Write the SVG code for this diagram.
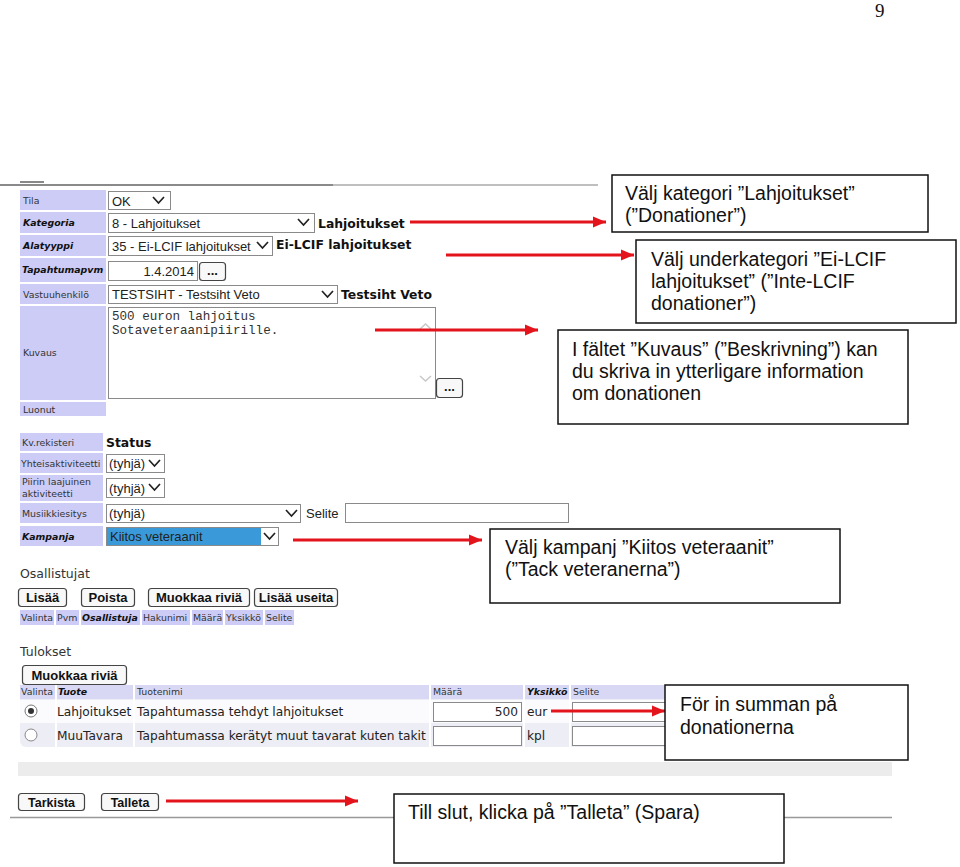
<svg xmlns="http://www.w3.org/2000/svg" xmlns:xlink="http://www.w3.org/1999/xlink" width="960" height="867" viewBox="0 0 960 867">
<style>
.lab{fill:#ccccf6}
.lt{font-family:"DejaVu Sans",Verdana,sans-serif;font-size:9.4px;fill:#333}
.bi{font-weight:bold;font-style:italic;fill:#111}
.inp{fill:#fff;stroke:#8a8a8a;stroke-width:1}
.st{font-family:"Liberation Sans",Arial,sans-serif;font-size:13px;fill:#222}
.bv{font-family:"DejaVu Sans",Verdana,sans-serif;font-size:12.4px;font-weight:bold;fill:#111}
.btn{fill:#f8f8f8;stroke:#444;stroke-width:1.2}
.bt{font-family:"Liberation Sans",Arial,sans-serif;font-size:13px;font-weight:bold;fill:#111;text-anchor:middle}
.bn{font-family:"Liberation Sans Narrow","Liberation Sans",Arial,sans-serif;font-size:12.5px;font-weight:bold;fill:#111;text-anchor:middle}
.rt{font-family:"DejaVu Sans",Verdana,sans-serif;font-size:12.2px;fill:#222}
.sec{font-family:"DejaVu Sans",Verdana,sans-serif;font-size:12.5px;fill:#333}
.box{fill:#fff;stroke:#111;stroke-width:1.5}
.ct{font-family:"Liberation Sans",Arial,sans-serif;font-size:19.5px;fill:#111}
.arr{stroke:#e3141b;stroke-width:3;fill:none;marker-end:url(#ah)}
</style>
<defs>
<path id="chev" d="M0,0 L5.5,6 L11,0" fill="none" stroke="#222" stroke-width="1.7"/>
<path id="chevg" d="M0,0 L5.5,5 L11,0" fill="none" stroke="#c8c8c8" stroke-width="1.5"/>
<marker id="ah" markerUnits="userSpaceOnUse" markerWidth="14" markerHeight="12" refX="13" refY="6" orient="auto">
<path d="M0,0.5 L13,6 L0,11.5 z" fill="#e3141b"/>
</marker>
</defs>
<rect width="960" height="867" fill="#fff"/>
<text x="875" y="17" font-family="Liberation Serif,serif" font-size="19" fill="#111">9</text>

<g id="form-top">
<rect x="20" y="181" width="24" height="2" fill="#888"/>
<line x1="0" y1="185" x2="333" y2="185" stroke="#8a8a8a" stroke-width="2"/>
<line x1="333" y1="185" x2="598" y2="185" stroke="#aaa" stroke-width="1.5"/>
<rect class="lab" x="20" y="190" width="86" height="20"/>
<text class="lt" x="23" y="204">Tila</text>
<rect class="inp" x="108.5" y="191.5" width="62" height="18"/>
<text class="st" x="112" y="206">OK</text>
<use xlink:href="#chev" x="153" y="197"/>

<rect class="lab" x="20" y="212" width="86" height="21"/>
<text class="lt bi" x="23" y="226">Kategoria</text>
<rect class="inp" x="108.5" y="213.5" width="206" height="19"/>
<text class="st" x="112" y="228">8 - Lahjoitukset</text>
<use xlink:href="#chev" x="298" y="219"/>
<text class="bv" x="318" y="228">Lahjoitukset</text>

<rect class="lab" x="20" y="235" width="86" height="21"/>
<text class="lt bi" x="23" y="249">Alatyyppi</text>
<rect class="inp" x="108.5" y="236.5" width="164" height="19"/>
<text class="st" x="112" y="251" font-size="12.6">35 - Ei-LCIF lahjoitukset</text>
<use xlink:href="#chev" x="257" y="242"/>
<text class="bv" x="276" y="249">Ei-LCIF lahjoitukset</text>

<rect class="lab" x="20" y="258" width="86" height="24"/>
<text class="lt bi" x="22" y="273" font-size="9.2">Tapahtumapvm</text>
<rect class="inp" x="108.5" y="261.5" width="89" height="19"/>
<text class="st" x="194" y="276" text-anchor="end">1.4.2014</text>
<rect class="btn" x="199.5" y="262.5" width="26" height="18" rx="3"/>
<text class="bt" x="212.5" y="275" font-weight="normal" font-size="11">...</text>

<rect class="lab" x="20" y="284" width="86" height="20"/>
<text class="lt" x="23" y="298">Vastuuhenkilö</text>
<rect class="inp" x="108.5" y="285.5" width="229" height="18"/>
<text class="st" x="112" y="299" font-size="13.5">TESTSIHT - Testsiht Veto</text>
<use xlink:href="#chev" x="322" y="291"/>
<text class="bv" x="341" y="299">Testsiht Veto</text>

<rect class="lab" x="20" y="306" width="86" height="94"/>
<text class="lt" x="23" y="356">Kuvaus</text>
<rect class="inp" x="108.5" y="307.5" width="327" height="91"/>
<text x="112" y="320" font-family="Liberation Mono,Courier New,monospace" font-size="12.6" fill="#333">500 euron lahjoitus</text>
<text x="112" y="334" font-family="Liberation Mono,Courier New,monospace" font-size="12.6" fill="#333">Sotaveteraanipiirille.</text>
<use xlink:href="#chevg" x="420" y="329" transform="rotate(180 425.5 329)"/>
<use xlink:href="#chevg" x="420" y="376"/>
<rect class="btn" x="436.5" y="378.5" width="26" height="19" rx="3"/>
<text class="bt" x="449.5" y="391" font-weight="normal" font-size="11">...</text>

<rect class="lab" x="20" y="402" width="86" height="14"/>
<text class="lt" x="23" y="413">Luonut</text>
</g>

<g id="form-middle">
<rect class="lab" x="20" y="433" width="83" height="18"/>
<text class="lt" x="22" y="446">Kv.rekisteri</text>
<text class="bv" x="106" y="447">Status</text>

<rect class="lab" x="20" y="453" width="83" height="20"/>
<text class="lt" x="21" y="467">Yhteisaktiviteetti</text>
<rect class="inp" x="106.5" y="454.5" width="58" height="18"/>
<text class="st" x="109" y="468">(tyhjä)</text>
<use xlink:href="#chev" x="149" y="460"/>

<rect class="lab" x="20" y="475" width="83" height="26"/>
<text class="lt" x="22" y="485">Piirin laajuinen</text>
<text class="lt" x="22" y="497">aktiviteetti</text>
<rect class="inp" x="106.5" y="478.5" width="58" height="19"/>
<text class="st" x="109" y="493">(tyhjä)</text>
<use xlink:href="#chev" x="149" y="484"/>

<rect class="lab" x="20" y="503" width="83" height="20"/>
<text class="lt" x="22" y="517">Musiikkiesitys</text>
<rect class="inp" x="106.5" y="504.5" width="194" height="18"/>
<text class="st" x="109" y="518">(tyhjä)</text>
<use xlink:href="#chev" x="286" y="510"/>
<text class="st" x="306" y="518">Selite</text>
<rect class="inp" x="345.5" y="503.5" width="223" height="19"/>

<rect class="lab" x="20" y="526" width="83" height="20"/>
<text class="lt bi" x="22" y="540">Kampanja</text>
<rect class="inp" x="106.5" y="527.5" width="172" height="18"/>
<rect x="107" y="528" width="154" height="17" fill="#3a9ad9"/>
<text class="st" x="110" y="541" fill="#fff">Kiitos veteraanit</text>
<use xlink:href="#chev" x="264" y="533"/>
</g>

<g id="form-osallistujat">
<text class="sec" x="20" y="578">Osallistujat</text>
<rect class="btn" x="18.5" y="588.5" width="48" height="18" rx="3"/>
<text class="bt" x="42.5" y="602">Lisää</text>
<rect class="btn" x="81.5" y="588.5" width="53" height="18" rx="3"/>
<text class="bt" x="108" y="602">Poista</text>
<rect class="btn" x="148.5" y="588.5" width="101" height="18" rx="3"/>
<text class="bt" x="199" y="602">Muokkaa riviä</text>
<rect class="btn" x="254.5" y="588.5" width="83" height="18" rx="3"/>
<text class="bt" x="296" y="602">Lisää useita</text>
<rect class="lab" x="20" y="610" width="34" height="15"/>
<text class="lt" x="21" y="621">Valinta</text>
<rect class="lab" x="56" y="610" width="23" height="15"/>
<text class="lt" x="57" y="621">Pvm</text>
<rect class="lab" x="81" y="610" width="59" height="15"/>
<text class="lt bi" x="82" y="621">Osallistuja</text>
<rect class="lab" x="142" y="610" width="48" height="15"/>
<text class="lt" x="143" y="621">Hakunimi</text>
<rect class="lab" x="192" y="610" width="31" height="15"/>
<text class="lt" x="193" y="621">Määrä</text>
<rect class="lab" x="225" y="610" width="38" height="15"/>
<text class="lt" x="226" y="621">Yksikkö</text>
<rect class="lab" x="265" y="610" width="29" height="15"/>
<text class="lt" x="266" y="621">Selite</text>
</g>

<g id="form-tulokset">
<text class="sec" x="20" y="656">Tulokset</text>
<rect class="btn" x="22.5" y="665.5" width="104" height="19" rx="3"/>
<text class="bt" x="74.5" y="679.5">Muokkaa riviä</text>
<rect x="20" y="685" width="872" height="62" rx="6" fill="#ededf5"/>
<rect x="20" y="685" width="872" height="14" fill="#d8d8f4"/>
<rect x="20" y="700" width="872" height="23" fill="#fbfbfe"/>
<g stroke="#fff" stroke-width="2">
<line x1="56" y1="685" x2="56" y2="747"/>
<line x1="134" y1="685" x2="134" y2="747"/>
<line x1="430" y1="685" x2="430" y2="747"/>
<line x1="524" y1="685" x2="524" y2="747"/>
<line x1="570" y1="685" x2="570" y2="747"/>
</g>
<text class="lt" x="21" y="695">Valinta</text>
<text class="lt bi" x="58" y="695">Tuote</text>
<text class="lt" x="137" y="695">Tuotenimi</text>
<text class="lt" x="433" y="695">Määrä</text>
<text class="lt bi" x="527" y="695">Yksikkö</text>
<text class="lt" x="573" y="695">Selite</text>
<circle cx="31" cy="711" r="6" fill="#fff" stroke="#777"/>
<circle cx="31" cy="711" r="3" fill="#333"/>
<text class="rt" x="57" y="716">Lahjoitukset</text>
<text class="rt" x="137" y="716">Tapahtumassa tehdyt lahjoitukset</text>
<rect class="inp" x="433.5" y="702.5" width="88" height="19"/>
<text class="rt" x="518" y="716" text-anchor="end">500</text>
<text class="rt" x="527" y="716">eur</text>
<rect class="inp" x="572.5" y="702.5" width="120" height="19"/>
<circle cx="31" cy="735" r="6" fill="#fff" stroke="#888"/>
<text class="rt" x="57" y="740">MuuTavara</text>
<text class="rt" x="137" y="740">Tapahtumassa kerätyt muut tavarat kuten takit</text>
<rect class="inp" x="433.5" y="726.5" width="88" height="19"/>
<text class="rt" x="527" y="740">kpl</text>
<rect class="inp" x="572.5" y="726.5" width="120" height="19"/>
<rect x="18" y="762" width="874" height="14" fill="#ececec"/>
<rect class="btn" x="18.5" y="793.5" width="66" height="17" rx="3"/>
<text class="bn" x="51.5" y="806.5">Tarkista</text>
<rect class="btn" x="101.5" y="793.5" width="57" height="17" rx="3"/>
<text class="bn" x="130" y="806.5">Talleta</text>
<line x1="10" y1="817.5" x2="892" y2="817.5" stroke="#999" stroke-width="1.5"/>
</g>

<g id="connectors">
<line class="arr" x1="410" y1="222" x2="606" y2="222"/>
<line class="arr" x1="446" y1="255" x2="634" y2="255"/>
<line class="arr" x1="375" y1="330" x2="538" y2="330"/>
<line class="arr" x1="293" y1="540" x2="482" y2="540"/>
<line class="arr" x1="551" y1="711" x2="665" y2="711"/>
<line class="arr" x1="166" y1="801" x2="358" y2="801"/>
</g>

<g id="callout-kategori">
<rect class="box" x="612" y="175" width="316" height="57"/>
<text class="ct" x="625" y="200">Välj kategori ”Lahjoitukset”</text>
<text class="ct" x="625" y="222">(”Donationer”)</text>
</g>
<g id="callout-underkategori">
<rect class="box" x="636" y="240" width="320" height="83"/>
<text class="ct" x="651" y="266">Välj underkategori ”Ei-LCIF</text>
<text class="ct" x="651" y="288">lahjoitukset” (”Inte-LCIF</text>
<text class="ct" x="651" y="310">donationer”)</text>
</g>
<g id="callout-kuvaus">
<rect class="box" x="558" y="330" width="350" height="94"/>
<text class="ct" x="572" y="356">I fältet ”Kuvaus” (”Beskrivning”) kan</text>
<text class="ct" x="572" y="378">du skriva in ytterligare information</text>
<text class="ct" x="572" y="400">om donationen</text>
</g>
<g id="callout-kampanj">
<rect class="box" x="490" y="529" width="350" height="74"/>
<text class="ct" x="505" y="554">Välj kampanj ”Kiitos veteraanit”</text>
<text class="ct" x="505" y="576">(”Tack veteranerna”)</text>
</g>
<g id="callout-summa">
<rect class="box" x="665" y="685" width="243" height="75"/>
<text class="ct" x="680" y="711">För in summan på</text>
<text class="ct" x="680" y="734">donationerna</text>
</g>
<g id="callout-talleta">
<rect class="box" x="394" y="794" width="390" height="69"/>
<text class="ct" x="408" y="819">Till slut, klicka på ”Talleta” (Spara)</text>
</g>
</svg>
